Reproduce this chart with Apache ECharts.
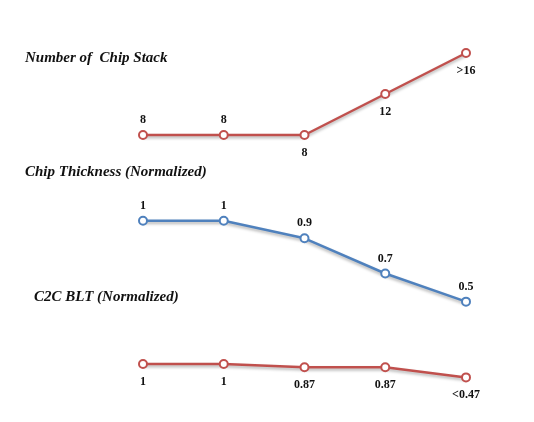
<!DOCTYPE html>
<html>
<head>
<meta charset="utf-8">
<script src="https://cdn.jsdelivr.net/npm/echarts@6/dist/echarts.min.js"></script>
<style>
html,body{margin:0;padding:0;background:#fff;}
#chart{width:534px;height:422px;}
</style>
</head>
<body>
<div id="chart"></div>
<script>
// five process steps, no visible category names
var steps = ['s1', 's2', 's3', 's4', 's5'];

// Number of Chip Stack
var stackValues = [8, 8, 8, 12, 16];
var stackLabels = ['8', '8', '8', '12', '>16'];
var stackLabelPos = ['top', 'top', 'bottom', 'bottom', 'bottom'];

// Chip Thickness (Normalized)
var thickValues = [1, 1, 0.9, 0.7, 0.54];
var thickLabels = ['1', '1', '0.9', '0.7', '0.5'];

// C2C BLT (Normalized)
var bltValues = [1, 1, 0.87, 0.87, 0.47];
var bltLabels = ['1', '1', '0.87', '0.87', '<0.47'];

var titles = ['Number of  Chip Stack', 'Chip Thickness (Normalized)', 'C2C BLT (Normalized)'];

var red = '#c0504d';
var blue = '#4f81bd';
var serif = '"Liberation Serif", "Times New Roman", serif';

var chart = echarts.init(document.getElementById('chart'));

function makeData(values, labels, pos) {
    return values.map(function (v, i) {
        return {
            value: v,
            label: {
                formatter: labels[i],
                position: pos[i],
                distance: pos[i] === 'top' ? 4 : 7
            }
        };
    });
}

function lineSeries(idx, color, values, labels, pos) {
    return {
        type: 'line',
        xAxisIndex: idx,
        yAxisIndex: idx,
        data: makeData(values, labels, pos),
        symbol: 'circle',
        symbolSize: 8,
        clip: false,
        silent: true,
        lineStyle: {
            color: color,
            width: 2.5,
            shadowColor: 'rgba(0,0,0,0.3)',
            shadowBlur: 3,
            shadowOffsetY: 2
        },
        itemStyle: {
            color: '#fff',
            borderColor: color,
            borderWidth: 2
        },
        label: {
            show: true,
            color: '#111',
            fontFamily: serif,
            fontWeight: 'bold',
            fontSize: 12
        }
    };
}

function grid(top, height) {
    return {left: 143, right: 68, top: top, height: height};
}

function xAxis(idx) {
    return {gridIndex: idx, type: 'category', data: steps, boundaryGap: false, show: false};
}

function yAxis(idx, min, max) {
    return {gridIndex: idx, type: 'value', min: min, max: max, show: false};
}

function allPos(p) {
    return steps.map(function () { return p; });
}

var titleStyle = {
    color: '#111',
    fontFamily: serif,
    fontStyle: 'italic',
    fontWeight: 'bold',
    fontSize: 15
};

var option = {
    backgroundColor: '#fff',
    animation: false,
    title: [
        {text: titles[0], left: 20, top: 46, textStyle: titleStyle},
        {text: titles[1], left: 20, top: 160, textStyle: titleStyle},
        {text: titles[2], left: 29, top: 285, textStyle: titleStyle}
    ],
    grid: [grid(53, 82), grid(220.7, 88), grid(364, 13.4)],
    xAxis: [xAxis(0), xAxis(1), xAxis(2)],
    yAxis: [yAxis(0, 8, 16), yAxis(1, 0.5, 1), yAxis(2, 0.47, 1)],
    series: [
        lineSeries(0, red, stackValues, stackLabels, stackLabelPos),
        lineSeries(1, blue, thickValues, thickLabels, allPos('top')),
        lineSeries(2, red, bltValues, bltLabels, allPos('bottom'))
    ]
};

chart.setOption(option);
</script>
</body>
</html>
